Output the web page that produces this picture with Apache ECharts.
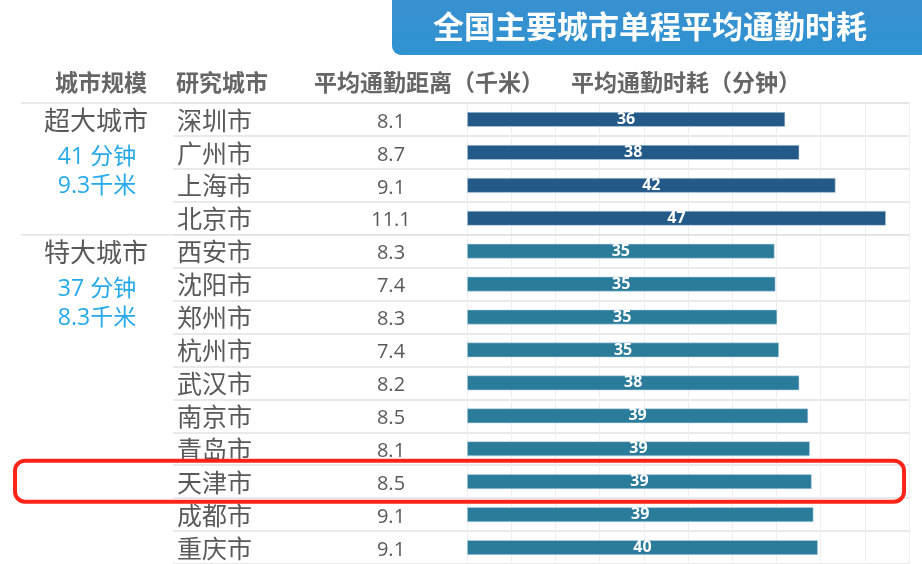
<!DOCTYPE html>
<html>
<head>
<meta charset="utf-8">
<script src="https://cdn.jsdelivr.net/npm/echarts@6/dist/echarts.min.js"></script>
<style>html,body{margin:0;padding:0;background:#fff;}#c{width:922px;height:564px;}</style>
</head>
<body>
<div id="c"></div>
<script>
var titleText = '全国主要城市单程平均通勤时耗';
var headers = ['城市规模', '研究城市', '平均通勤距离（千米）', '平均通勤时耗（分钟）'];
var cities = ['深圳市','广州市','上海市','北京市','西安市','沈阳市','郑州市','杭州市','武汉市','南京市','青岛市','天津市','成都市','重庆市'];
var distances = [8.1, 8.7, 9.1, 11.1, 8.3, 7.4, 8.3, 7.4, 8.2, 8.5, 8.1, 8.5, 9.1, 9.1];
var times = [36.0, 37.6, 41.7, 47.4, 34.8, 34.9, 35.1, 35.3, 37.6, 38.6, 38.8, 39.0, 39.2, 39.7];
var groupNames = ['超大城市', '特大城市'];
var groupSizes = [4, 10];
var groupTime = ['41 分钟', '37 分钟'];
var groupDist = ['9.3千米', '8.3千米'];
var highlightCity = '天津市';
var groupColors = ['#245a87', '#2b7b9b'];

var FONT = "'Open Sans','Noto Sans CJK SC',sans-serif";
var chart = echarts.init(document.getElementById('c'));

function groupOf(i) {
  var acc = 0;
  for (var g = 0; g < groupSizes.length; g++) { acc += groupSizes[g]; if (i < acc) return g; }
  return groupSizes.length - 1;
}

chart.setOption({
  animation: false,
  backgroundColor: '#fff',
  textStyle: { fontFamily: FONT },
  grid: [
    { left: 467, top: 103, width: 442, height: 462, containLabel: false },
    { left: 173, top: 103, width: 736, height: 462, containLabel: false }
  ],
  xAxis: [
    { type: 'value', gridIndex: 0, min: 0, max: 50, interval: 5,
      axisLabel: { show: false }, axisLine: { show: false }, axisTick: { show: false },
      splitLine: { show: true, lineStyle: { color: '#eeeeee', width: 1 } } },
    { type: 'value', gridIndex: 1, min: 0, max: 1, show: false }
  ],
  yAxis: [
    { type: 'category', gridIndex: 0, data: cities, inverse: true,
      axisLine: { show: false }, axisTick: { show: false }, splitLine: { show: false },
      axisLabel: { margin: 290, align: 'left', fontFamily: FONT,
        formatter: function (v) { return '{a|' + v + '}'; },
        rich: { a: { fontSize: 25, color: '#595959', fontFamily: FONT, padding: [6, 0, 0, 0] } } } },
    { type: 'category', gridIndex: 0, data: distances.map(function (d) { return d.toFixed(1); }), inverse: true,
      position: 'left',
      axisLine: { show: false }, axisTick: { show: false }, splitLine: { show: false },
      axisLabel: { margin: 76, align: 'center', fontFamily: FONT,
        formatter: function (v) { return '{a|' + v + '}'; },
        rich: { a: { fontSize: 20, color: '#595959', fontFamily: FONT, padding: [5, 0, 0, 0] } } } },
    { type: 'category', gridIndex: 1, data: cities, inverse: true,
      axisLine: { show: false }, axisTick: { show: false }, axisLabel: { show: false },
      splitLine: { show: true, lineStyle: { color: '#e2e2e2', width: 1.5 } } }
  ],
  series: [
    { type: 'bar', xAxisIndex: 0, yAxisIndex: 0, data: times, barWidth: 15,
      itemStyle: {
        color: function (p) { return groupColors[groupOf(p.dataIndex)]; },
        borderColor: 'rgba(190,215,232,0.7)', borderWidth: 0.8
      },
      label: { show: true, position: 'inside', color: '#ffffff', fontWeight: 'bold', fontSize: 16, fontFamily: FONT,
        formatter: function (p) { return Math.round(p.value); } },
      z: 3 },
    { type: 'bar', xAxisIndex: 1, yAxisIndex: 2, data: [], silent: true }
  ]
});

// decorations derived from axis positions
var c0 = chart.convertToPixel({ yAxisIndex: 0 }, cities[0]);
var c1 = chart.convertToPixel({ yAxisIndex: 0 }, cities[1]);
var band = c1 - c0;
var topY = c0 - band / 2;
var leftX = 21, rightX = 909;
var graphics = [];

// title box
graphics.push({ type: 'rect', shape: { x: 392, y: -12, width: 560, height: 67, r: 9 },
  style: { fill: new echarts.graphic.LinearGradient(0, 0, 0, 1, [{ offset: 0, color: '#3b8fd0' }, { offset: 1, color: '#2f93d1' }]) } });
graphics.push({ type: 'text', x: 650, y: 29, style: { text: titleText, fill: '#ffffff', font: 'bold 31px ' + FONT, textAlign: 'center', textVerticalAlign: 'middle' } });

// headers
var headerPos = [[101, 'center'], [176, 'left'], [429, 'center'], [686, 'center']];
headers.forEach(function (h, i) {
  graphics.push({ type: 'text', x: headerPos[i][0], y: 84,
    style: { text: h, fill: '#666666', font: 'bold 23px ' + FONT, textAlign: headerPos[i][1], textVerticalAlign: 'middle' } });
});

// top line and group separators
graphics.push({ type: 'line', shape: { x1: leftX, y1: topY, x2: rightX, y2: topY }, style: { stroke: '#e2e2e2', lineWidth: 1.5 } });
var acc = 0;
groupSizes.forEach(function (n, g) {
  var firstCenter = chart.convertToPixel({ yAxisIndex: 0 }, cities[acc]);
  graphics.push({ type: 'text', x: 96, y: firstCenter + 3, style: { text: groupNames[g], fill: '#595959', font: '26px ' + FONT, textAlign: 'center', textVerticalAlign: 'middle' } });
  graphics.push({ type: 'text', x: 97, y: firstCenter + 38, style: { text: groupTime[g], fill: '#25a9ea', font: '23px ' + FONT, textAlign: 'center', textVerticalAlign: 'middle' } });
  graphics.push({ type: 'text', x: 97, y: firstCenter + 67, style: { text: groupDist[g], fill: '#25a9ea', font: '23px ' + FONT, textAlign: 'center', textVerticalAlign: 'middle' } });
  acc += n;
  if (acc < cities.length) {
    var by = chart.convertToPixel({ yAxisIndex: 0 }, cities[acc]) - band / 2;
    graphics.push({ type: 'line', shape: { x1: leftX, y1: by, x2: rightX, y2: by }, style: { stroke: '#e2e2e2', lineWidth: 1.5 } });
  }
});

// highlight box
var hc = chart.convertToPixel({ yAxisIndex: 0 }, highlightCity);
graphics.push({ type: 'rect', shape: { x: 15, y: hc - 21, width: 889, height: 41, r: 10 },
  style: { fill: 'none', stroke: '#ff2418', lineWidth: 4 }, z: 100 });

chart.setOption({ graphic: graphics });
</script>
</body>
</html>
